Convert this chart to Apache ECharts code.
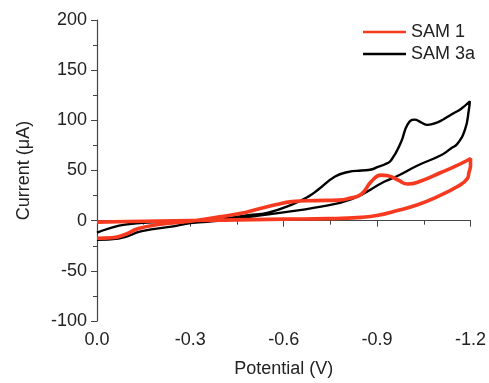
<!DOCTYPE html>
<html>
<head>
<meta charset="utf-8">
<script src="https://cdn.jsdelivr.net/npm/echarts@6/dist/echarts.min.js"></script>
<style>html,body{margin:0;padding:0;background:#fff}#c{width:489px;height:383px}</style>
</head>
<body>
<div id="c"></div>
<script>
// SAM 1 (red) closed CV loop: potential (V) and current (µA)
const sam1Potential = [0, -0.048, -0.09, -0.133, -0.197, -0.3, -0.4, -0.467, -0.509, -0.573, -0.626, -0.7, -0.775, -0.807, -0.849, -0.881, -0.913, -0.935, -0.967, -0.998, -1.041, -1.105, -1.15, -1.19, -1.2,
  -1.2, -1.195, -1.19, -1.158, -1.094, -1.03, -0.956, -0.903, -0.849, -0.743, -0.6, -0.4, -0.2, -0.1, 0];
const sam1Current = [-17.5, -17, -13.8, -7.9, -3.9, -0.5, 4, 7.6, 10.9, 15.8, 19, 20, 20.5, 22, 26.4, 38.9, 45.4, 44.8, 40.5, 36.5, 39.5, 48, 54, 60.2, 62,
  55, 48, 42, 34, 24, 15.8, 9.3, 5.3, 3.3, 2, 1.5, 0.5, -0.3, -0.8, -1.5];

// SAM 3a (black) closed CV loop
const sam3aPotential = [0, -0.037, -0.09, -0.197, -0.3, -0.4, -0.5, -0.55, -0.626, -0.679, -0.711, -0.765, -0.807, -0.85, -0.881, -0.903, -0.924, -0.945, -0.977, -0.998, -1.02, -1.041, -1.062, -1.094, -1.115, -1.147, -1.168, -1.198,
  -1.195, -1.183, -1.158, -1.137, -1.105, -1.03, -0.967, -0.924, -0.818, -0.7, -0.605, -0.52, -0.45, -0.4, -0.3, -0.25, -0.144, -0.069, 0];
const sam3aCurrent = [-12, -7.9, -3.9, -1.3, 0, 2, 6, 8, 16, 24, 31, 44, 48.5, 50, 51, 53.7, 56, 60.2, 78.4, 96, 100.7, 98, 95.5, 98, 101.4, 107.3, 111, 119,
  111, 91.5, 76.7, 72, 65.2, 55, 44.8, 39, 21.5, 13, 8.5, 5, 2, 0, -2.5, -5.5, -10.5, -17.8, -19];

const xTicks = [0, -0.3, -0.6, -0.9, -1.2];
const yTicks = [-100, -50, 0, 50, 100, 150, 200];

const zip = (a, b) => a.map((v, i) => [v, b[i]]);
const txt = '#222';
const axisCol = '#444';
const font = 'Liberation Sans, Arial';

const chart = echarts.init(document.getElementById('c'));
chart.setOption({
  animation: false,
  grid: { left: 97, right: 16, top: 20, bottom: 59, containLabel: false },
  legend: {
    orient: 'vertical', left: 363, top: 23, padding: 0, icon: 'rect',
    itemWidth: 43, itemHeight: 2.5, itemGap: 4,
    textStyle: { fontFamily: font, fontSize: 18, color: txt, lineHeight: 18 },
    data: ['SAM 1', 'SAM 3a']
  },
  xAxis: {
    type: 'value', inverse: true, min: -1.2, max: 0, interval: 0.3,
    name: 'Potential (V)', nameLocation: 'middle', nameGap: 39,
    nameTextStyle: { fontFamily: font, fontSize: 18, color: txt },
    axisLine: { show: true, lineStyle: { color: axisCol, width: 1.2 } },
    axisTick: { show: true, inside: false, length: 6, lineStyle: { color: axisCol } },
    minorTick: { show: true, splitNumber: 2, length: 4, lineStyle: { color: axisCol } },
    splitLine: { show: false },
    axisLabel: { margin: 10, fontFamily: font, fontSize: 18, color: txt,
      formatter: v => xTicks.some(t => Math.abs(t - v) < 1e-6) ? v.toFixed(1) : '' }
  },
  yAxis: {
    type: 'value', min: -100, max: 200, interval: 50,
    name: 'Current (μA)', nameLocation: 'middle', nameGap: 64,
    nameTextStyle: { fontFamily: font, fontSize: 18, color: txt },
    axisLine: { show: true, lineStyle: { color: axisCol, width: 1.2 } },
    axisTick: { show: true, inside: false, length: 6, lineStyle: { color: axisCol } },
    minorTick: { show: true, splitNumber: 2, length: 4, lineStyle: { color: axisCol } },
    splitLine: { show: false },
    axisLabel: { margin: 10, fontFamily: font, fontSize: 18, color: txt,
      formatter: v => yTicks.includes(v) ? String(v) : '' }
  },
  series: [
    { name: 'SAM 1', type: 'line', data: zip(sam1Potential, sam1Current), symbol: 'none', smooth: 0.5,
      color: '#f73a1f', itemStyle: { color: '#f73a1f' }, lineStyle: { width: 3.6, color: '#f73a1f' }, z: 3 },
    { name: 'SAM 3a', type: 'line', data: zip(sam3aPotential, sam3aCurrent), symbol: 'none', smooth: 0.5,
      color: '#000', itemStyle: { color: '#000' }, lineStyle: { width: 2.4, color: '#000' }, z: 2 }
  ]
});
</script>
</body>
</html>
